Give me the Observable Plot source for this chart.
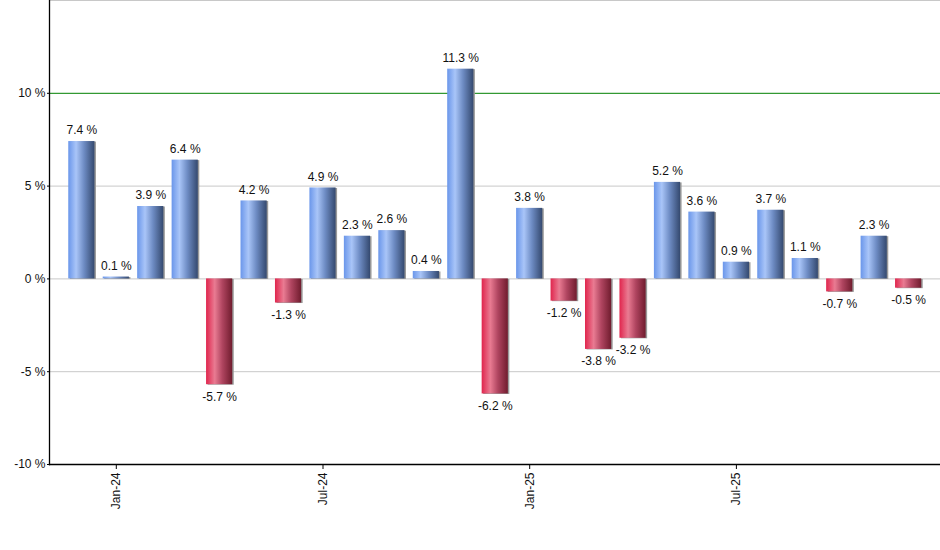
<!DOCTYPE html>
<html>
<head>
<meta charset="utf-8">
<script src="https://cdn.jsdelivr.net/npm/d3@7"></script>
<script src="https://cdn.jsdelivr.net/npm/@observablehq/plot@0.6"></script>
<style>
  html, body { margin: 0; padding: 0; background: #fff; }
  #chart svg { display: block; }
</style>
</head>
<body>
<div id="chart"></div>
<script>
const months = ["Dec-23","Jan-24","Feb-24","Mar-24","Apr-24","May-24","Jun-24","Jul-24","Aug-24","Sep-24","Oct-24","Nov-24","Dec-24","Jan-25","Feb-25","Mar-25","Apr-25","May-25","Jun-25","Jul-25","Aug-25","Sep-25","Oct-25","Nov-25","Dec-25"];
const values = [7.4, 0.1, 3.9, 6.4, -5.7, 4.2, -1.3, 4.9, 2.3, 2.6, 0.4, 11.3, -6.2, 3.8, -1.2, -3.8, -3.2, 5.2, 3.6, 0.9, 3.7, 1.1, -0.7, 2.3, -0.5];
const xTicks = ["Jan-24","Jul-24","Jan-25","Jul-25"];
const yTicks = [-10, -5, 0, 5, 10];
const grayGrid = [15, 5, 0, -5];
const greenGrid = [10];

const data = months.map((m, i) => ({month: m, value: values[i]}));
const pos = data.filter(d => d.value >= 0);
const neg = data.filter(d => d.value < 0);
const fmt = v => v.toFixed(1) + " %";

const chart = Plot.plot({
  width: 940,
  height: 550,
  marginLeft: 49,
  marginRight: 0,
  marginTop: 0,
  marginBottom: 86,
  style: {fontFamily: "'Liberation Sans', Arial, sans-serif", fontSize: "12px", color: "#111", background: "#fff"},
  x: {domain: months, range: [60, 929.5], padding: 0.24, round: false, label: null},
  y: {domain: [-10, 15], label: null},
  marks: [
    Plot.ruleY(grayGrid, {stroke: "#c8c8c8", strokeWidth: 1}),
    Plot.ruleY(greenGrid, {stroke: "#008000", strokeWidth: 1}),
    Plot.barY(data, {x: "month", y: "value", fill: "#9a9a9a", dx: 1.5, dy: 0.5}),
    Plot.barY(pos, {x: "month", y: "value", fill: "url(#gradBlue)"}),
    Plot.barY(neg, {x: "month", y: "value", fill: "url(#gradRed)"}),
    Plot.text(pos, {x: "month", y: "value", text: d => fmt(d.value), dy: -11, fill: "#111"}),
    Plot.text(neg, {x: "month", y: "value", text: d => fmt(d.value), dy: 12, fill: "#111"}),
    Plot.axisY({ticks: yTicks, tickFormat: d => d + " %", tickSize: 2, tickPadding: 2, label: null, stroke: "#000"}),
    Plot.axisX({ticks: xTicks, tickRotate: -90, tickSize: 5, tickPadding: 3, label: null, stroke: "#000"}),
    Plot.frame({anchor: "left", stroke: "#000", strokeWidth: 1.3}),
    Plot.frame({anchor: "bottom", stroke: "#000", strokeWidth: 1.3})
  ]
});

const svg = d3.select(chart);
const defs = svg.insert("defs", ":first-child");
function grad(id, stops) {
  const g = defs.append("linearGradient").attr("id", id)
    .attr("x1", "0").attr("y1", "0").attr("x2", "1").attr("y2", "0");
  stops.forEach(([o, c]) => g.append("stop").attr("offset", o).attr("stop-color", c));
}
grad("gradBlue", [[0, "#6a96ea"], [0.3, "#a9c5f8"], [0.6, "#6e8cc4"], [1, "#34496f"]]);
grad("gradRed", [[0, "#e0254d"], [0.33, "#e97b92"], [0.62, "#b04560"], [1, "#701c2e"]]);

document.getElementById("chart").appendChild(chart);
</script>
</body>
</html>
